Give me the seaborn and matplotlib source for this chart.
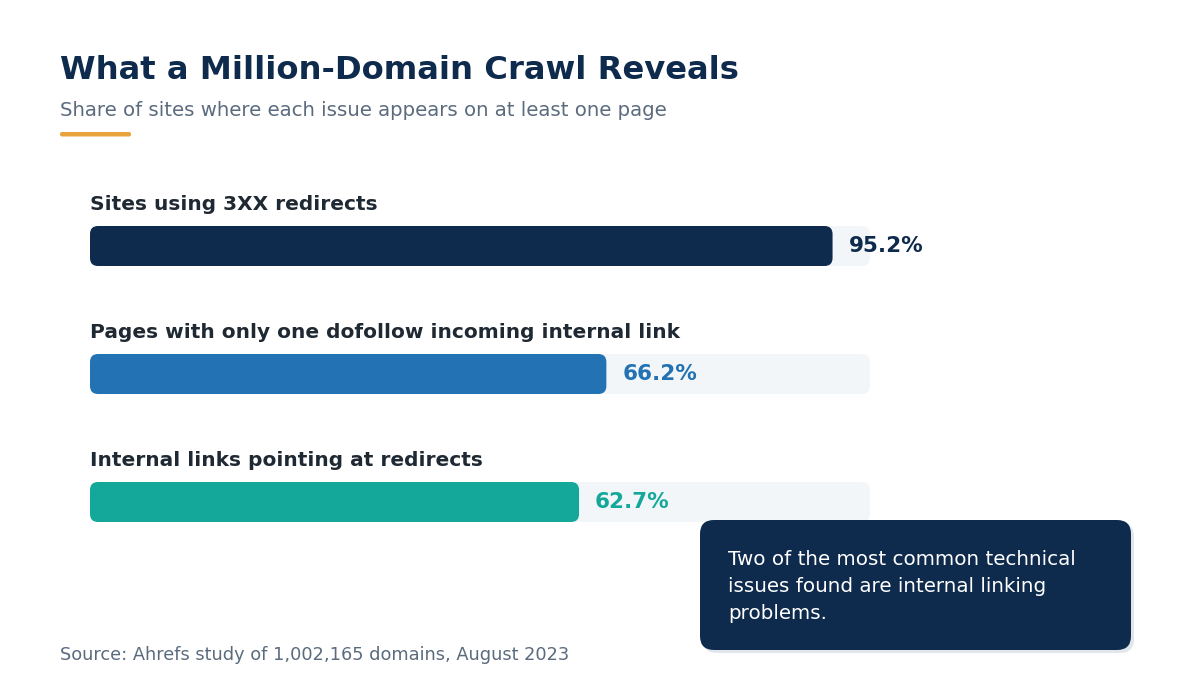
import matplotlib
matplotlib.use("Agg")
import matplotlib.pyplot as plt
from matplotlib.patches import FancyBboxPatch
import seaborn as sns
import pandas as pd

# ---- data ----
categories = [
    "Sites using 3XX redirects",
    "Pages with only one dofollow incoming internal link",
    "Internal links pointing at redirects",
]
values = [95.2, 66.2, 62.7]
value_labels = ["95.2%", "66.2%", "62.7%"]
bar_colors = ["#0e2a4c", "#2272b4", "#14a89a"]
track_max = [100, 100, 100]

title = "What a Million-Domain Crawl Reveals"
subtitle = "Share of sites where each issue appears on at least one page"
source = "Source: Ahrefs study of 1,002,165 domains, August 2023"
callout = "Two of the most common technical\nissues found are internal linking\nproblems."

df = pd.DataFrame({"issue": categories, "value": values, "track": track_max})

sns.set_theme(style="white")
plt.rcParams["font.family"] = ["DejaVu Sans"]

W, H = 1200, 690
fig = plt.figure(figsize=(W / 100, H / 100), dpi=100)
fig.patch.set_facecolor("white")

# bar axes: x 90..870 px maps 0..100, rows 128 px apart, first center at 246 px
row_px = 128
top_px = 246 - row_px / 2
bot_px = 502 + row_px / 2
ax = fig.add_axes([90 / W, 1 - bot_px / H, 780 / W, (bot_px - top_px) / H])
ax.set_facecolor("none")

bar_h = 40 / row_px
sns.barplot(data=df, y="issue", x="track", orient="h", color="#f3f6f9",
            saturation=1, width=bar_h, ax=ax, zorder=1)
sns.barplot(data=df, y="issue", x="value", orient="h", palette=bar_colors,
            hue="issue", legend=False, saturation=1, width=bar_h, ax=ax, zorder=2)
ax.set_xlim(0, 100)
ax.set_ylim(2.5, -0.5)

# convert rectangles to rounded boxes
px_x = 100 / 780      # data units per px in x
px_y = 1 / row_px     # data units per px in y
aspect = px_y / px_x
rects = list(ax.patches)
for p in rects:
    x0, y0 = p.get_x(), p.get_y()
    w, h = p.get_width(), p.get_height()
    fc = p.get_facecolor()
    z = p.get_zorder()
    p.remove()
    r = 8 * px_x
    fb = FancyBboxPatch((x0, y0), w, h,
                        boxstyle=f"round,pad=0,rounding_size={r}",
                        mutation_aspect=aspect, facecolor=fc,
                        edgecolor="none", zorder=z)
    ax.add_patch(fb)

for i, (cat, v, lab, c) in enumerate(zip(categories, values, value_labels, bar_colors)):
    ax.text(0, i - 36 * px_y, cat, ha="left", va="baseline", fontsize=14.5,
            fontweight="bold", color="#1f2933", zorder=5)
    ax.text(v + 16 * px_x, i, lab, ha="left", va="center", fontsize=15.5,
            fontweight="bold", color=c, zorder=5)

ax.set_xlabel("")
ax.set_ylabel("")
ax.set_xticks([])
ax.set_yticks([])
for s in ax.spines.values():
    s.set_visible(False)

# overlay axes in pixel coordinates for annotation elements
ov = fig.add_axes([0, 0, 1, 1], zorder=10)
ov.set_xlim(0, W)
ov.set_ylim(H, 0)
ov.axis("off")
ov.patch.set_alpha(0)

ov.text(60, 79, title, ha="left", va="baseline", fontsize=23.2,
        fontweight="bold", color="#0e2a4c")
ov.text(60, 116, subtitle, ha="left", va="baseline", fontsize=14.25,
        color="#5b6b7e")
ov.add_patch(FancyBboxPatch((60, 132), 71, 4.5,
                            boxstyle="round,pad=0,rounding_size=2",
                            facecolor="#e8a33d", edgecolor="none"))

# callout
ov.add_patch(FancyBboxPatch((703, 523), 431, 130,
                            boxstyle="round,pad=0,rounding_size=14",
                            facecolor="#e1e6ec", edgecolor="none"))
ov.add_patch(FancyBboxPatch((700, 520), 431, 130,
                            boxstyle="round,pad=0,rounding_size=14",
                            facecolor="#0e2a4c", edgecolor="none"))
ov.text(728, 550, callout, ha="left", va="top", fontsize=14.3,
        color="white", linespacing=1.53)

ov.text(60, 660, source, ha="left", va="baseline", fontsize=12.75,
        color="#5b6b7e")

fig.savefig("out.png", dpi=100, facecolor="white")
